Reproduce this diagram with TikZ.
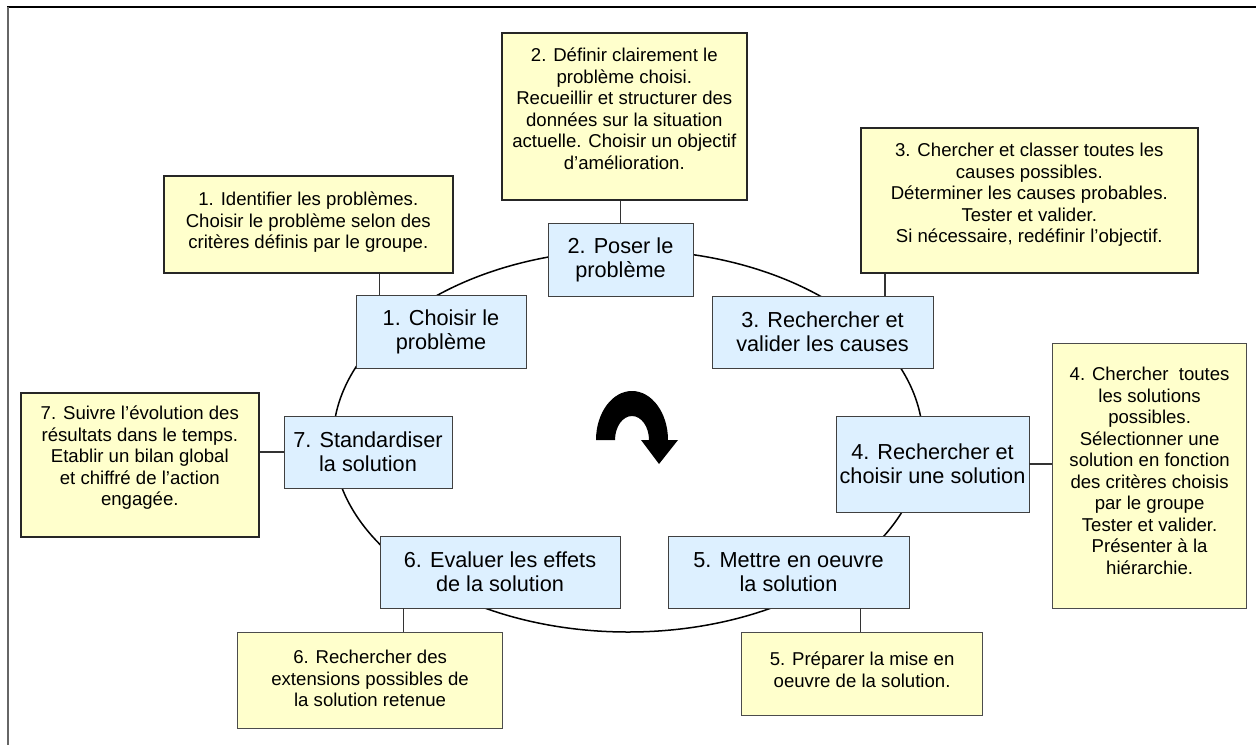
\documentclass[tikz,border=0pt]{standalone}
\usepackage{fontspec}
\setmainfont{Liberation Sans}
\usepackage{xcolor}
\usepackage{tikz}
\usetikzlibrary{
    positioning,
    calc
}
\definecolor{notefill}{HTML}{FFFFCC}
\definecolor{stepfill}{HTML}{DDF0FF}
% text of a note box, set from the top
\newcommand{\notetext}[4][30pt]{\parbox[c][#3][t]{#2}{\centering\rule{0pt}{#1}#4}}
\tikzset{
  basic/.style = {
      draw,
      rectangle,
      inner sep=0pt,
      align=center
  },
  stepbox/.style = {
      basic,
      draw=black!75,
      line width=0.9pt,
      fill=stepfill,
      font=\fontsize{21.7pt}{24pt}\selectfont
  },
  note/.style = {
      basic,
      draw=black!85,
      line width=1.6pt,
      fill=notefill,
      anchor=north west,
      font=\fontsize{18.6pt}{21.5pt}\selectfont
  },
  link/.style = {
      draw=black!80,
      line width=1.1pt
  },
  cycle line/.style = {
      draw,
      line width=1.5pt
  },
  frame/.style = {
      line width=1.6pt
  }
}

\begin{document}
\begin{tikzpicture}[x=1pt,y=-1pt]
        \useasboundingbox (0,0) rectangle (1256,745);
        % Frame
        \draw[frame] (7,7) -- (1256,7);
        \draw[frame, black!60] (8,7) -- (8,745);
        % Cycle and turning arrow
        \draw[cycle line] (628,441) ellipse [x radius=295pt, y radius=191pt];
        \fill (596,440) arc[start angle=180, end angle=0, x radius=36pt, y radius=49pt]
            -- (678,440) -- (659,464) -- (641,440) -- (649,440)
            arc[start angle=0, end angle=180, x radius=17pt, y radius=24pt] -- cycle;
        % Steps
        \node[stepbox, minimum width=170pt, minimum height=73pt] (s1) at (441,331.5) {1. Choisir le\\problème};
        \node[stepbox, minimum width=145pt, minimum height=73pt] (s2) at (620.5,259.5) {2. Poser le\\problème};
        \node[stepbox, minimum width=221pt, minimum height=72pt] (s3) at (822.5,332) {3. Rechercher et\\valider les causes};
        \node[stepbox, minimum width=193pt, minimum height=96pt] (s4) at (932.5,464) {4. Rechercher et\\choisir une solution};
        \node[stepbox, minimum width=241pt, minimum height=72pt] (s5) at (788.5,572) {5. Mettre en oeuvre\\la solution};
        \node[stepbox, minimum width=240pt, minimum height=72pt] (s6) at (500,572) {6. Evaluer les effets\\de la solution};
        \node[stepbox, minimum width=168pt, minimum height=72pt] (s7) at (368,452) {7. Standardiser\\la solution};
        % Notes
        \node[note] (y1) at (163,175) {\notetext{289pt}{97pt}{1. Identifier les problèmes.\\Choisir le problème selon des\\critères définis par le groupe.}};
        \node[note] (y2) at (501,32) {\notetext[29pt]{245pt}{167pt}{2. Définir clairement le\\problème choisi.\\Recueillir et structurer des\\données sur la situation\\actuelle. Choisir un objectif\\d’amélioration.}};
        \node[note] (y3) at (860,127) {\notetext[29pt]{337pt}{145pt}{3. Chercher et classer toutes les\\causes possibles.\\Déterminer les causes probables.\\Tester et valider.\\Si nécessaire, redéfinir l’objectif.}};
        \node[note, draw=black!70, line width=1.2pt] (y4) at (1052,343) {\notetext[37pt]{194pt}{265pt}{4. Chercher\ \ toutes\\les solutions\\possibles.\\Sélectionner une\\solution en fonction\\des critères choisis\\par le groupe\\Tester et valider.\\Présenter à la\\hiérarchie.}};
        \node[note, draw=black!70, line width=1.2pt] (y5) at (741,632) {\notetext[33pt]{241pt}{83pt}{5. Préparer la mise en\\oeuvre de la solution.}};
        \node[note, draw=black!70, line width=1.2pt] (y6) at (237,632) {\notetext[31pt]{265pt}{96pt}{6. Rechercher des\\extensions possibles de\\la solution retenue}};
        \node[note] (y7) at (20,392) {\notetext[27pt]{238pt}{144pt}{7. Suivre l’évolution des\\résultats dans le temps.\\Etablir un bilan global\\et chiffré de l’action\\engagée.}};
        % Links
        \coordinate (c1) at ([xshift=24pt]s1.north west);
        \coordinate (c3) at ([xshift=25pt]y3.south west);
        \coordinate (c5) at ([xshift=-49pt]s5.south east);
        \coordinate (c6) at ([xshift=24pt]s6.south west);
        \draw[link] (c1) -- (c1 |- y1.south);
        \draw[link] (s2.north) -- (s2.north |- y2.south);
        \draw[link] (c3) -- (c3 |- s3.north);
        \draw[link] (s4.east) -- (s4.east -| y4.west);
        \draw[link] (c5) -- (c5 |- y5.north);
        \draw[link] (c6) -- (c6 |- y6.north);
        \draw[link] (s7.west) -- (s7.west -| y7.east);
    \end{tikzpicture}
\end{document}
